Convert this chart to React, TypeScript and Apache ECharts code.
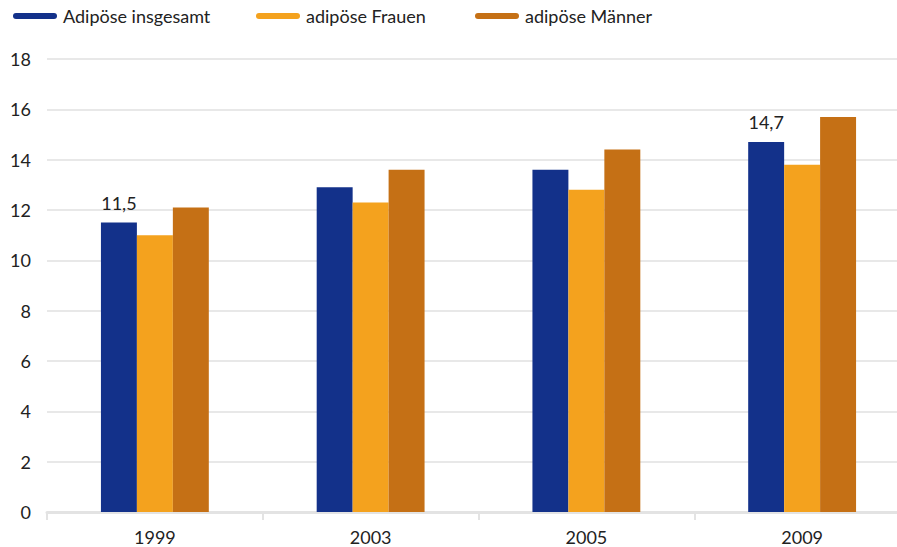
import React, { useEffect, useRef } from "react";
import * as echarts from "echarts";

const categories = ["1999", "2003", "2005", "2009"];
const seriesNames = ["Adipöse insgesamt", "adipöse Frauen", "adipöse Männer"];
const insgesamt = [11.5, 12.9, 13.6, 14.7];
const frauen = [11.0, 12.3, 12.8, 13.8];
const maenner = [12.1, 13.6, 14.4, 15.7];
const labeledIdx = [0, 3];
const colors = ["#13318a", "#f4a21e", "#c57015"];

const FONT = "Lato, 'Open Sans', sans-serif";
const capsule = "path://M3,0 L41,0 A3,3 0 0 1 41,6 L3,6 A3,3 0 0 1 3,0 Z";

export default function App() {
  const ref = useRef<HTMLDivElement>(null);
  useEffect(() => {
    if (!ref.current) return;
    const chart = echarts.init(ref.current, null, { renderer: "svg" });
    const legendLefts = [8, 251, 470];
    const values = [insgesamt, frauen, maenner];
    chart.setOption({
      animation: false,
      textStyle: { fontFamily: FONT },
      legend: seriesNames.map((n, i) => ({
        data: [n],
        left: legendLefts[i],
        top: 2,
        icon: capsule,
        itemWidth: 44,
        itemHeight: 6,
        textStyle: { fontSize: 18, color: "#222", fontFamily: FONT, padding: [0, 0, 0, 1] },
        selectedMode: false,
      })),
      grid: { left: 47, right: 0, top: 59, bottom: 35, containLabel: false },
      xAxis: {
        type: "category",
        data: categories,
        axisLine: { lineStyle: { color: "#e3e3e3", width: 3 } },
        axisTick: { show: true, length: 8, lineStyle: { color: "#e3e3e3", width: 2 } },
        axisLabel: { fontSize: 18, color: "#222", margin: 16, fontFamily: FONT },
      },
      yAxis: {
        type: "value",
        min: 0,
        max: 18,
        interval: 2,
        axisLine: { show: false },
        axisTick: { show: false },
        axisLabel: { fontSize: 18, color: "#222", margin: 16, fontFamily: FONT },
        splitLine: { lineStyle: { color: "#e8e8e8", width: 2 } },
      },
      series: values.map((vals, i) => ({
        name: seriesNames[i],
        type: "bar",
        barGap: "0%",
        barCategoryGap: "50%",
        itemStyle: { color: colors[i] },
        data: vals.map((v, j) => ({
          value: v,
          label:
            i === 0 && labeledIdx.includes(j)
              ? {
                  show: true,
                  position: "top",
                  distance: 11,
                  fontSize: 18,
                  color: "#222",
                  fontFamily: FONT,
                  formatter: (p: any) => String(p.value).replace(".", ","),
                }
              : { show: false },
        })),
      })),
    });
    return () => chart.dispose();
  }, []);
  return (
    <div style={{ width: 897, height: 547, position: "absolute", left: 0, top: 0, overflow: "hidden" }}>
      <div ref={ref} style={{ width: 910, height: 547 }} />
    </div>
  );
}
